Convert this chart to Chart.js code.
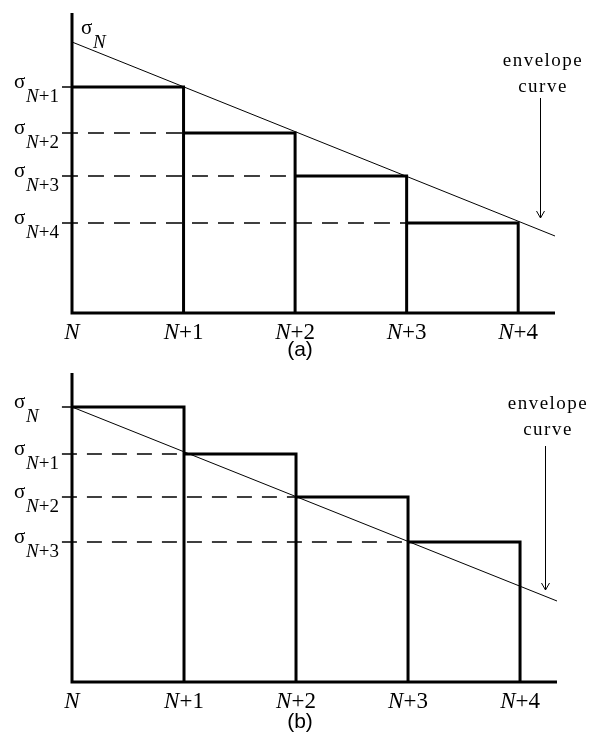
<!DOCTYPE html>
<html>
<head>
<meta charset="utf-8">
<script src="https://cdn.jsdelivr.net/npm/chart.js@4.4.1/dist/chart.umd.min.js"></script>
<style>
  html, body { margin: 0; padding: 0; background: #fff; }
  #wrap { position: relative; width: 597px; height: 744px; }
  canvas { position: absolute; left: 0; }
  #chartA { top: 0; }
  #chartB { top: 360px; }
</style>
</head>
<body>
<div id="wrap">
  <canvas id="chartA" width="597" height="364"></canvas>
  <canvas id="chartB" width="597" height="384"></canvas>
</div>
<script>
// step positions on the x axis
const stepLabels = ['N', 'N+1', 'N+2', 'N+3', 'N+4'];
const stepX = [0, 1, 2, 3, 4];
const xEnd = 4.33;

// panel (a): sigma levels N .. N+4
const sigmaNamesA = ['N', 'N+1', 'N+2', 'N+3', 'N+4'];
const sigmaA = [271, 226, 180, 137, 90];
const envelopeXA = [0, 4.33];
const envelopeYA = [271, 77];
const yTopA = 300;

// panel (b): sigma levels N .. N+3
const sigmaNamesB = ['N', 'N+1', 'N+2', 'N+3'];
const sigmaB = [275, 228, 185, 140];
const envelopeXB = [0, 4.33];
const envelopeYB = [275, 81];
const yTopB = 309;

const tickStart = -0.09;
const SERIF = '"Liberation Serif", "Times New Roman", serif';

function gap(x) { return { x: x, y: null }; }

// rich text: italic N followed by upright rest
function richWidth(ctx, txt, size) {
  ctx.font = 'italic ' + size + 'px ' + SERIF;
  let w = ctx.measureText(txt[0]).width;
  ctx.font = size + 'px ' + SERIF;
  w += ctx.measureText(txt.slice(1)).width;
  return w;
}
function drawRich(ctx, x, y, txt, size) {
  ctx.textAlign = 'left';
  ctx.font = 'italic ' + size + 'px ' + SERIF;
  ctx.fillText(txt[0], x, y);
  const w = ctx.measureText(txt[0]).width;
  ctx.font = size + 'px ' + SERIF;
  ctx.fillText(txt.slice(1), x + w, y);
}
function drawSigma(ctx, x, y, sub) {
  ctx.textAlign = 'left';
  ctx.font = '21px ' + SERIF;
  ctx.fillText('σ', x, y);
  drawRich(ctx, x + 12, y + 14, sub, 19);
}

const labelPlugin = {
  id: 'figLabels',
  afterDraw(chart, args, opts) {
    const ctx = chart.ctx;
    const xs = chart.scales.x, ys = chart.scales.y;
    ctx.save();
    ctx.fillStyle = '#000';
    ctx.textBaseline = 'alphabetic';

    // sigma labels on the y axis
    opts.names.forEach((name, i) => {
      const py = ys.getPixelForValue(opts.values[i]);
      if (i === 0 && opts.topRight) {
        drawSigma(ctx, 81, 34, name);
      } else {
        drawSigma(ctx, 14, py + 1, name);
      }
    });

    // step labels under the x axis
    const base = ys.getPixelForValue(0) + 26;
    stepLabels.forEach((lab, i) => {
      const px = xs.getPixelForValue(stepX[i]);
      const w = richWidth(ctx, lab, 23);
      drawRich(ctx, px - w / 2, base, lab, 23);
    });

    // envelope curve note + arrow
    ctx.font = '19px ' + SERIF;
    ctx.letterSpacing = '1.5px';
    ctx.textAlign = 'center';
    ctx.fillText('envelope', opts.note.x, opts.note.y1);
    ctx.fillText('curve', opts.note.x, opts.note.y2);
    ctx.letterSpacing = '0px';

    const ax = opts.arrow.x;
    ctx.strokeStyle = '#000';
    ctx.lineWidth = 1;
    ctx.beginPath();
    ctx.moveTo(ax + 0.5, opts.arrow.y0);
    ctx.lineTo(ax + 0.5, opts.arrow.y1);
    ctx.moveTo(ax - 3.5, opts.arrow.y1 - 7);
    ctx.lineTo(ax + 0.5, opts.arrow.y1);
    ctx.lineTo(ax + 4.5, opts.arrow.y1 - 7);
    ctx.stroke();

    // panel caption
    ctx.font = '21px "Liberation Sans", Arial, sans-serif';
    ctx.textAlign = 'center';
    ctx.fillText(opts.caption, 300, opts.captionY);
    ctx.restore();
  }
};

function lineSet(data, width, dash) {
  return {
    data: data,
    showLine: true,
    borderColor: '#000',
    borderWidth: width,
    borderDash: dash || [],
    pointRadius: 0,
    spanGaps: false,
    clip: false,
    tension: 0,
    borderCapStyle: 'butt',
    borderJoinStyle: 'miter'
  };
}

function buildChart(id, cfg) {
  return new Chart(document.getElementById(id), {
    type: 'scatter',
    data: { datasets: cfg.datasets },
    options: {
      responsive: false,
      animation: false,
      devicePixelRatio: 1,
      layout: { padding: cfg.padding },
      scales: {
        x: { type: 'linear', min: 0, max: xEnd, display: false },
        y: { type: 'linear', min: 0, max: cfg.yTop, display: false }
      },
      plugins: {
        legend: { display: false },
        tooltip: { enabled: false },
        figLabels: cfg.labels
      }
    },
    plugins: [labelPlugin]
  });
}

// ---- panel (a) ----
const axesA = [{ x: 0, y: yTopA }, { x: 0, y: 0 }, { x: xEnd, y: 0 }];
const stepsA = [];
for (let i = 1; i < sigmaA.length; i++) {
  stepsA.push({ x: stepX[i - 1], y: sigmaA[i] }, { x: stepX[i], y: sigmaA[i] }, { x: stepX[i], y: 0 }, gap(stepX[i]));
}
const dashA = [];
const tickA = [{ x: tickStart, y: sigmaA[1] }, { x: 0, y: sigmaA[1] }];
for (let j = 2; j < sigmaA.length; j++) {
  dashA.push({ x: tickStart, y: sigmaA[j] }, { x: stepX[j - 1], y: sigmaA[j] }, gap(stepX[j - 1]));
}
const envA = envelopeXA.map((x, i) => ({ x: x, y: envelopeYA[i] }));

buildChart('chartA', {
  yTop: yTopA,
  padding: { left: 72, right: 42, top: 13, bottom: 51 },
  datasets: [
    lineSet(dashA, 1.5, [16, 10]),
    lineSet(tickA, 1.5),
    lineSet(envA, 1),
    lineSet(stepsA, 3),
    lineSet(axesA, 3)
  ],
  labels: {
    names: sigmaNamesA, values: sigmaA, topRight: true,
    note: { x: 543, y1: 66, y2: 92 },
    arrow: { x: 540, y0: 98, y1: 218 },
    caption: '(a)', captionY: 356
  }
});

// ---- panel (b) ----
const axesB = [{ x: 0, y: yTopB }, { x: 0, y: 0 }, { x: xEnd, y: 0 }];
const stepsB = [];
for (let i = 0; i < sigmaB.length; i++) {
  stepsB.push({ x: stepX[i], y: sigmaB[i] }, { x: stepX[i + 1], y: sigmaB[i] }, { x: stepX[i + 1], y: 0 }, gap(stepX[i + 1]));
}
const dashB = [];
const tickB = [{ x: tickStart, y: sigmaB[0] }, { x: 0, y: sigmaB[0] }];
for (let j = 1; j < sigmaB.length; j++) {
  dashB.push({ x: tickStart, y: sigmaB[j] }, { x: stepX[j], y: sigmaB[j] }, gap(stepX[j]));
}
const envB = envelopeXB.map((x, i) => ({ x: x, y: envelopeYB[i] }));

buildChart('chartB', {
  yTop: yTopB,
  padding: { left: 72, right: 40, top: 13, bottom: 62 },
  datasets: [
    lineSet(dashB, 1.5, [15, 10]),
    lineSet(tickB, 1.5),
    lineSet(envB, 1),
    lineSet(stepsB, 3),
    lineSet(axesB, 3)
  ],
  labels: {
    names: sigmaNamesB, values: sigmaB, topRight: false,
    note: { x: 548, y1: 49, y2: 75 },
    arrow: { x: 545, y0: 86, y1: 230 },
    caption: '(b)', captionY: 368
  }
});
</script>
</body>
</html>
